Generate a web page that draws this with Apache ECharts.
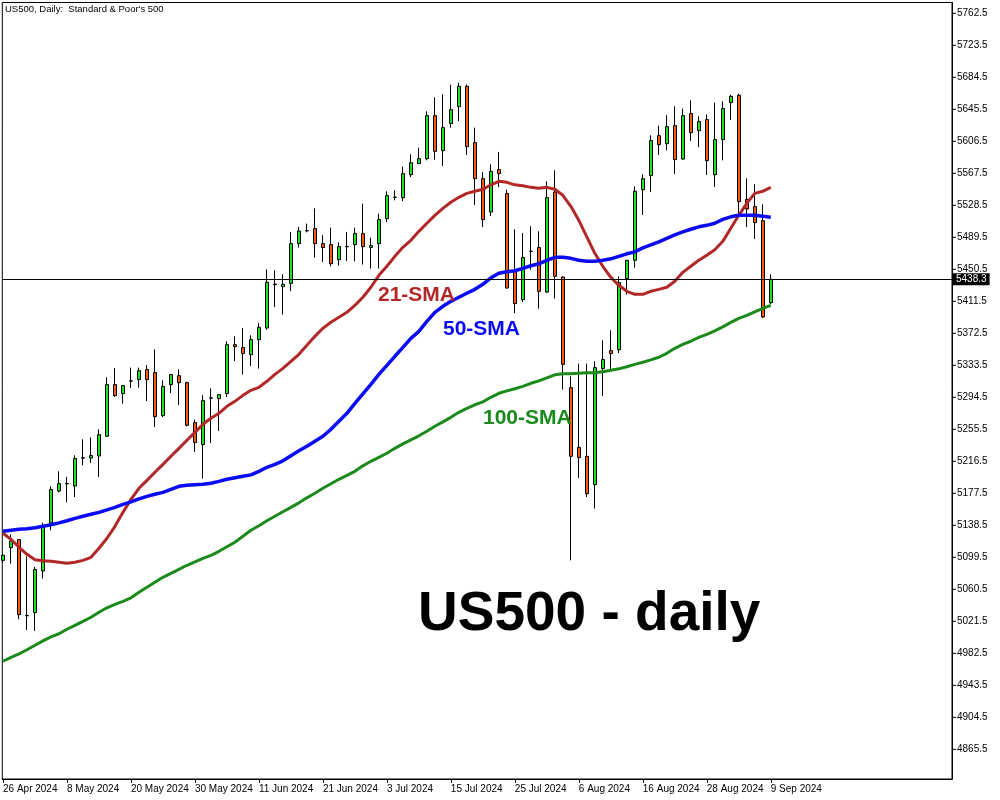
<!DOCTYPE html>
<html>
<head>
<meta charset="utf-8">
<script src="https://cdn.jsdelivr.net/npm/echarts@6/dist/echarts.min.js"></script>
<style>html,body{margin:0;padding:0;background:#fff;}#c{width:1000px;height:800px;}</style>
</head>
<body>
<div id="c"></div>
<script>
const dates = ["26 Apr 2024","29 Apr 2024","30 Apr 2024","1 May 2024","2 May 2024","3 May 2024","6 May 2024","7 May 2024","8 May 2024","9 May 2024","10 May 2024","13 May 2024","14 May 2024","15 May 2024","16 May 2024","17 May 2024","20 May 2024","21 May 2024","22 May 2024","23 May 2024","24 May 2024","27 May 2024","28 May 2024","29 May 2024","30 May 2024","31 May 2024","3 Jun 2024","4 Jun 2024","5 Jun 2024","6 Jun 2024","7 Jun 2024","10 Jun 2024","11 Jun 2024","12 Jun 2024","13 Jun 2024","14 Jun 2024","17 Jun 2024","18 Jun 2024","19 Jun 2024","20 Jun 2024","21 Jun 2024","24 Jun 2024","25 Jun 2024","26 Jun 2024","27 Jun 2024","28 Jun 2024","1 Jul 2024","2 Jul 2024","3 Jul 2024","4 Jul 2024","5 Jul 2024","8 Jul 2024","9 Jul 2024","10 Jul 2024","11 Jul 2024","12 Jul 2024","15 Jul 2024","16 Jul 2024","17 Jul 2024","18 Jul 2024","19 Jul 2024","22 Jul 2024","23 Jul 2024","24 Jul 2024","25 Jul 2024","26 Jul 2024","29 Jul 2024","30 Jul 2024","31 Jul 2024","1 Aug 2024","2 Aug 2024","5 Aug 2024","6 Aug 2024","7 Aug 2024","8 Aug 2024","9 Aug 2024","12 Aug 2024","13 Aug 2024","14 Aug 2024","15 Aug 2024","16 Aug 2024","19 Aug 2024","20 Aug 2024","21 Aug 2024","22 Aug 2024","23 Aug 2024","26 Aug 2024","27 Aug 2024","28 Aug 2024","29 Aug 2024","30 Aug 2024","2 Sep 2024","3 Sep 2024","4 Sep 2024","5 Sep 2024","6 Sep 2024","9 Sep 2024"];

const opens = [5095.8,5111.3,5121.0,5028.6,5032.1,5082.8,5141.3,5180.3,5189.0,5186.4,5220.8,5220.6,5223.0,5247.0,5310.0,5299.0,5314.2,5316.1,5328.3,5324.6,5272.2,5310.0,5320.9,5312.4,5263.7,5236.9,5293.5,5292.9,5299.0,5358.7,5355.1,5346.5,5364.8,5379.0,5432.5,5429.4,5433.4,5481.8,5497.4,5500.1,5481.8,5480.6,5462.3,5478.0,5480.6,5494.0,5477.0,5481.8,5512.3,5538.1,5537.9,5565.9,5579.3,5585.4,5637.8,5595.2,5628.1,5648.8,5673.5,5604.9,5561.0,5520.3,5572.0,5542.8,5448.4,5413.6,5472.2,5477.0,5422.8,5544.7,5441.1,5306.3,5233.5,5222.6,5188.1,5329.5,5351.4,5352.6,5439.2,5461.5,5547.6,5564.7,5613.4,5603.7,5625.6,5584.9,5640.3,5619.5,5633.0,5565.9,5608.6,5653.7,5662.6,5535.8,5526.9,5509.8,5409.9];
const highs = [5104.0,5127.5,5121.5,5100.7,5087.7,5141.8,5186.0,5204.3,5197.4,5223.8,5243.3,5245.7,5255.5,5318.9,5330.2,5309.5,5330.7,5330.7,5333.9,5353.0,5315.2,5323.0,5328.6,5313.6,5267.3,5297.0,5305.4,5298.0,5362.8,5368.8,5379.0,5370.1,5385.1,5450.5,5449.3,5444.4,5496.0,5502.1,5506.2,5524.8,5492.0,5501.3,5483.4,5496.0,5501.3,5530.6,5489.1,5518.4,5545.6,5546.8,5575.7,5590.7,5598.8,5643.1,5660.1,5663.8,5675.6,5678.0,5675.6,5623.2,5569.1,5578.5,5593.5,5547.6,5499.3,5494.8,5503.0,5496.8,5557.8,5571.2,5442.0,5320.1,5335.6,5335.6,5338.4,5364.0,5376.2,5442.0,5462.0,5551.7,5566.3,5613.8,5625.6,5638.2,5649.2,5646.4,5656.5,5637.0,5639.4,5653.7,5655.3,5663.4,5664.6,5561.4,5554.1,5529.7,5444.4];
const lows = [5093.0,5091.8,5024.0,5010.9,5009.7,5073.5,5132.4,5178.7,5166.5,5173.0,5211.6,5214.4,5197.4,5246.1,5294.9,5286.8,5305.8,5306.3,5290.0,5258.3,5270.5,5299.8,5285.1,5259.0,5227.9,5195.4,5238.8,5253.4,5294.9,5338.8,5322.2,5332.7,5329.5,5377.0,5404.6,5395.3,5424.0,5477.0,5495.6,5464.8,5459.4,5454.2,5455.0,5460.6,5460.3,5456.3,5451.4,5451.4,5508.1,5534.6,5533.7,5563.0,5579.0,5583.3,5584.2,5576.4,5623.2,5631.2,5589.8,5528.9,5502.1,5515.5,5550.8,5427.0,5397.2,5410.7,5450.1,5402.6,5421.6,5414.8,5303.9,5095.8,5196.2,5173.0,5158.9,5296.0,5328.3,5348.5,5419.6,5452.6,5516.7,5544.7,5589.8,5595.5,5566.6,5584.0,5606.9,5599.5,5565.4,5550.8,5583.3,5632.5,5514.2,5502.1,5487.4,5391.1,5407.9];
const closes = [5102.0,5119.4,5029.7,5028.2,5084.5,5136.4,5182.0,5189.3,5189.5,5219.8,5220.4,5223.5,5249.0,5310.0,5296.6,5308.8,5314.6,5327.0,5316.1,5271.0,5307.6,5322.2,5312.4,5260.4,5239.3,5290.5,5293.9,5297.8,5358.7,5356.3,5347.8,5364.8,5379.8,5434.6,5431.8,5432.2,5481.8,5497.2,5497.8,5481.8,5477.0,5457.4,5478.2,5478.4,5494.0,5478.2,5479.4,5511.1,5540.3,5538.5,5567.1,5580.5,5585.4,5637.8,5594.3,5623.2,5645.1,5673.5,5600.0,5561.0,5511.1,5569.9,5567.1,5427.7,5408.7,5464.8,5472.6,5423.7,5537.9,5442.0,5334.7,5222.6,5221.0,5177.1,5330.7,5340.5,5347.8,5434.3,5461.5,5545.6,5561.0,5607.4,5602.5,5624.4,5584.2,5637.8,5617.1,5630.5,5583.0,5608.6,5646.4,5661.3,5533.0,5524.0,5507.4,5392.4,5438.3];

const sma21 = [5128.8,5121.4,5111.7,5103.2,5096.5,5095.2,5094.6,5093.4,5092.2,5093.4,5095.8,5099.5,5110.5,5122.7,5137.3,5154.3,5170.2,5183.6,5193.3,5203.1,5212.8,5222.6,5232.3,5242.1,5251.8,5261.6,5268.9,5275.0,5283.5,5289.6,5296.9,5303.0,5306.7,5314.0,5322.5,5329.8,5338.4,5346.9,5357.9,5368.8,5378.6,5385.9,5392.0,5398.1,5406.6,5416.4,5428.6,5443.2,5454.2,5466.3,5477.3,5485.8,5496.8,5506.6,5516.3,5524.8,5532.2,5538.3,5543.1,5545.6,5548.0,5553.5,5557.8,5556.5,5553.5,5552.3,5550.4,5549.2,5550.4,5548.0,5540.7,5527.3,5510.2,5490.1,5470.0,5454.2,5440.8,5431.0,5423.7,5420.0,5420.0,5423.7,5426.1,5428.6,5435.9,5446.8,5454.2,5461.5,5467.6,5474.3,5484.6,5500.5,5516.3,5530.9,5543.1,5545.6,5550.4];
const sma50 = [5131.2,5132.4,5133.6,5134.2,5135.5,5137.3,5139.1,5141.5,5144.0,5147.0,5149.5,5151.9,5154.3,5157.4,5160.4,5164.1,5167.1,5170.8,5173.8,5176.3,5178.7,5182.4,5186.0,5187.3,5187.9,5188.5,5189.7,5192.1,5194.6,5196.4,5198.2,5200.0,5204.3,5209.2,5212.8,5217.1,5223.2,5229.3,5234.8,5240.9,5247.0,5255.5,5265.3,5275.0,5287.2,5298.8,5310.3,5322.5,5333.5,5344.5,5355.4,5366.4,5374.9,5387.1,5398.1,5405.4,5411.5,5416.4,5421.3,5426.1,5432.2,5440.1,5445.6,5447.5,5448.7,5451.7,5454.8,5457.2,5461.5,5465.1,5465.1,5463.9,5461.5,5460.3,5460.3,5461.5,5463.3,5466.3,5469.4,5471.8,5476.7,5480.4,5484.0,5488.3,5492.5,5496.2,5499.3,5502.3,5504.1,5506.6,5511.4,5514.5,5516.3,5516.3,5516.3,5515.1,5513.9];
const sma100 = [4972.8,4977.6,4981.9,4986.8,4992.3,4997.7,5002.6,5006.3,5011.8,5016.6,5021.5,5026.4,5032.5,5038.0,5042.2,5045.9,5050.1,5056.8,5062.9,5069.0,5075.1,5080.0,5084.9,5089.8,5094.0,5098.3,5101.9,5106.8,5112.3,5117.8,5125.1,5132.4,5137.9,5144.0,5149.5,5155.0,5160.4,5165.9,5172.0,5177.5,5183.6,5189.1,5194.6,5199.4,5204.3,5211.0,5216.5,5221.4,5226.3,5232.3,5237.8,5242.7,5247.6,5253.1,5259.2,5264.6,5270.1,5276.2,5281.1,5285.4,5289.0,5294.5,5299.4,5302.4,5304.9,5307.9,5311.6,5314.6,5318.3,5321.9,5323.1,5323.1,5323.8,5324.4,5324.4,5325.6,5327.4,5329.2,5331.7,5334.7,5337.2,5340.2,5343.3,5348.1,5354.2,5359.1,5362.8,5367.6,5371.3,5375.5,5380.4,5385.9,5390.8,5394.4,5398.7,5403.0,5406.6];

const yTickValues = [4865.5,4904.5,4943.5,4982.5,5021.5,5060.5,5099.5,5138.5,5177.5,5216.5,5255.5,5294.5,5333.5,5372.5,5411.5,5450.5,5489.5,5528.5,5567.5,5606.5,5645.5,5684.5,5723.5,5762.5];
const xTickIndex = [0,8,16,24,32,40,48,56,64,72,80,88,96];

const candleData = dates.map((d, i) => [i, opens[i], closes[i], lows[i], highs[i]]);
const toLine = arr => arr.map((v, i) => [i, v]);
const lastPrice = closes[closes.length - 1];

const FONT = '"Liberation Sans", Arial, sans-serif';
const chart = echarts.init(document.getElementById('c'), null, {renderer: 'canvas'});
chart.setOption({
  animation: false,
  backgroundColor: '#ffffff',
  grid: {left: 2, right: 48, top: 2.5, bottom: 21, show: true, borderColor: '#000', borderWidth: 1, backgroundColor: 'transparent'},
  xAxis: {
    type: 'value', min: -0.0875, max: 118.66,
    axisLine: {show: true, onZero: false, lineStyle: {color: '#000', width: 1}},
    axisTick: {show: true, length: 4, lineStyle: {color: '#000'}, customValues: xTickIndex},
    axisLabel: {show: true, customValues: xTickIndex, formatter: v => dates[Math.round(v)] || '', align: 'left', margin: 5, color: '#000', fontSize: 10, fontFamily: FONT, showMinLabel: true, showMaxLabel: true},
    splitLine: {show: false}
  },
  yAxis: {
    type: 'value', position: 'right', min: 4829.3, max: 5775.7, scale: true,
    axisLine: {show: true, onZero: false, lineStyle: {color: '#000', width: 1}},
    axisTick: {show: false},
    axisLabel: {
      show: true, customValues: yTickValues, margin: 0, color: '#000', fontSize: 10, fontFamily: FONT,
      formatter: v => '{t|}{g|}' + v.toFixed(1),
      rich: {t: {width: 4, height: 1, backgroundColor: '#000'}, g: {width: 1}}
    },
    splitLine: {show: false}
  },
  title: {
    text: "US500, Daily:  Standard & Poor's 500", left: 5, top: 4, padding: 0,
    textStyle: {fontSize: 9.5, fontWeight: 'normal', color: '#000', fontFamily: FONT}
  },
  series: [
    {
      type: 'candlestick', name: 'US500',
      data: candleData,
      encode: {x: 0, y: [1, 2, 3, 4]},
      barWidth: 4,
      itemStyle: {color: '#1EE61E', color0: '#FA5A0A', borderColor: '#000', borderColor0: '#000', borderWidth: 1},
      markLine: {
        silent: true, symbol: ['none', 'none'],
        lineStyle: {color: '#000', width: 1, type: 'solid'},
        label: {show: true, position: 'end', distance: 1, formatter: () => lastPrice.toFixed(1), backgroundColor: '#000', color: '#fff', fontSize: 10, fontFamily: FONT, padding: [1, 3, 1, 3]},
        data: [{yAxis: lastPrice}]
      },
      z: 2
    },
    {type: 'line', name: '21-SMA', data: toLine(sma21), showSymbol: false, lineStyle: {color: '#B22828', width: 3}, z: 3},
    {type: 'line', name: '50-SMA', data: toLine(sma50), showSymbol: false, lineStyle: {color: '#0A0AF5', width: 3.5}, z: 3},
    {type: 'line', name: '100-SMA', data: toLine(sma100), showSymbol: false, lineStyle: {color: '#1A8A1A', width: 3}, z: 3}
  ],
  graphic: [
    {type: 'text', x: 378, y: 295, z: 10, style: {text: '21-SMA', fill: '#B22828', font: 'bold 21px ' + FONT, verticalAlign: 'middle'}},
    {type: 'text', x: 443, y: 329, z: 10, style: {text: '50-SMA', fill: '#0A0AF5', font: 'bold 21px ' + FONT, verticalAlign: 'middle'}},
    {type: 'text', x: 483, y: 418.5, z: 10, style: {text: '100-SMA', fill: '#1A8A1A', font: 'bold 21px ' + FONT, verticalAlign: 'middle'}},
    {type: 'text', x: 418, y: 615, z: 10, style: {text: 'US500 - daily', fill: '#000', font: 'bold 55px ' + FONT, verticalAlign: 'middle'}}
  ]
});
</script>
</body>
</html>
